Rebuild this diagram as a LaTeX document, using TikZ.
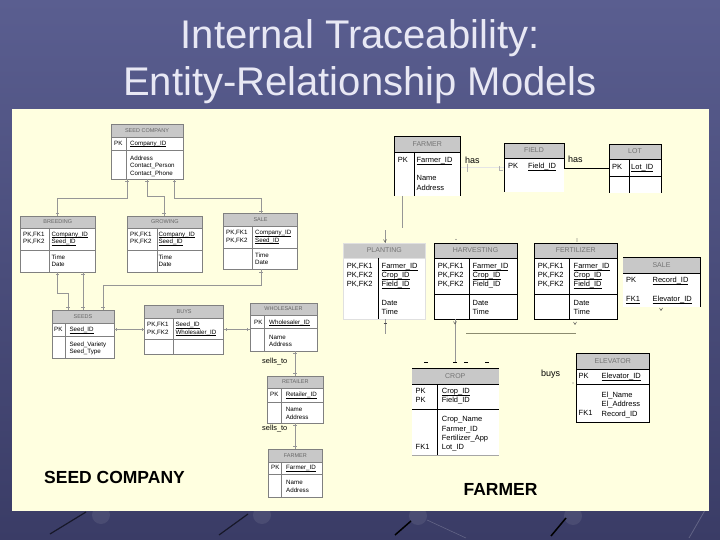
\documentclass[tikz,border=0pt]{standalone}
\usepackage{fontspec}
\setmainfont{Liberation Sans}
\usetikzlibrary{fit,decorations.markings}
\definecolor{bgtop}{RGB}{90,94,144}
\definecolor{bgbot}{RGB}{58,60,102}
\definecolor{panel}{RGB}{255,255,224}
\definecolor{hdrgray}{RGB}{200,200,200}
\definecolor{titlec}{RGB}{232,232,244}
\definecolor{connc}{RGB}{150,150,150}
\definecolor{olivec}{RGB}{140,140,112}
\newcommand{\ulx}[1]{\underline{\vphantom{A}\smash{#1}}}
\newcommand{\ent}[9]{%
  \coordinate (#1-nw) at (#3,#4);
  \coordinate (#1-se) at (#5,#6);
  \node[fit=(#1-nw)(#1-se),inner sep=0pt,outer sep=0pt,fill=white] (#1) {};
  \fill[hdrfill] (#3,#4) rectangle (#5,#7);
  \draw[entline] (#3,#7) -- (#5,#7);
  \draw[entline] (#3,#8) -- (#5,#8);
  \draw[entline] (#9,#7) -- (#9,#6);
  \draw[entborder] (#3,#4) rectangle (#5,#6);
  \node[hdrtxt] (#1-t) at ({(#3+#5)/2},{(#4+#7)/2}) {#2};
}
\begin{document}
\begin{tikzpicture}[x=1pt,y=-1pt,
  hdrfill/.style={fill=hdrgray},
  st/.style={font=\fontsize{6.2}{7.6}\selectfont,inner sep=0pt,anchor=north west,align=left},
  ft/.style={font=\fontsize{7.5}{9.3}\selectfont,inner sep=0pt,anchor=north west,align=left},
  title/.style={font=\fontsize{40}{44}\selectfont,text=titlec,anchor=base,inner sep=0pt},
  lbl/.style={font=\fontsize{7.4}{8}\selectfont,anchor=west,inner sep=0pt},
  lblb/.style={font=\fontsize{9}{10}\selectfont,anchor=west,inner sep=0pt},
  big/.style={font=\fontsize{17.5}{20}\selectfont\bfseries,inner sep=0pt},
  seedconn/.style={draw=connc,line width=0.5pt,postaction={decorate,decoration={markings,
     mark=at position 2.5pt with {\draw[connc,line width=0.4pt] (0,-1.6pt)--(0,1.6pt);},
     mark=at position -2.5pt with {\draw[connc,line width=0.4pt] (0,-1.6pt)--(0,1.6pt);}}}},
  fline/.style={draw=black,line width=0.75pt},
  mk/.style={draw=black!70,line width=0.5pt}
]
\useasboundingbox (0,0) rectangle (720,540);
% background
\shade[top color=bgtop,bottom color=bgbot] (0,0) rectangle (720,540);
\fill[white,opacity=0.08] (101,515) circle (9) (262,515) circle (9) (418,516) circle (9) (573,516) circle (9);
\draw[black!60!bgbot,line width=1.2pt] (50,534) -- (86,512);
\draw[black!60!bgbot,line width=1.2pt] (219,535) -- (248,514);
\draw[black,line width=1.5pt] (395,535) -- (411,521);
\draw[black,line width=1.5pt] (551,536) -- (566,518);
\draw[white,opacity=0.2,line width=0.6pt] (427,520) -- (466,538);
\draw[white,opacity=0.2,line width=0.8pt] (689,538) -- (708,505);
% title
\node[title] (t1) at (360,49) {Internal Traceability:};
\node[title] (t2) at (360,96) {Entity-Relationship Models};
% panel
\fill[panel] (12,109) rectangle (709,511);

% ---------------- seed company side ----------------
\begin{scope}[entline/.style={draw=black!50,line width=0.45pt},
              entborder/.style={draw=black!50,line width=0.45pt},
              hdrtxt/.style={font=\fontsize{5.5}{6}\selectfont,text=black!60,inner sep=0pt}]
\ent{sc}{SEED COMPANY}{111}{124}{183}{179}{137}{150}{126}
\ent{br}{BREEDING}{20.7}{216}{95}{272}{228}{250}{49.6}
\ent{gr}{GROWING}{127.6}{216}{202}{272}{228}{250}{157}
\ent{sa}{SALE}{223.6}{213.7}{297.5}{269.3}{226}{248}{252.5}
\ent{se}{SEEDS}{52}{310}{114}{358}{323}{336}{65.7}
\ent{bu}{BUYS}{144.6}{305}{223.6}{354}{318}{339}{173.5}
\ent{wh}{WHOLESALER}{250}{303}{317}{351}{315}{328}{264}
\ent{re}{RETAILER}{267.7}{376}{323}{423}{388}{402}{281}
\ent{fs}{FARMER}{268.6}{449}{322}{497}{462}{474}{281}
\end{scope}

\node[st] (sc-k) at (114,140.7) {PK};
\node[st] (sc-p) at (130,140.7) {\ulx{Company\_ID}};
\node[st] (sc-a) at (130,155.4) {Address\\Contact\_Person\\Contact\_Phone};
\node[st] (br-k) at (23,231.7) {PK,FK1\\PK,FK2};
\node[st] (br-p) at (51.4,231.7) {\ulx{Company\_ID}\\\ulx{Seed\_ID}};
\node[st] (br-a) at (51.4,254.4) {Time\\Date};
\node[st] (gr-k) at (130,231.7) {PK,FK1\\PK,FK2};
\node[st] (gr-p) at (158.4,231.7) {\ulx{Company\_ID}\\\ulx{Seed\_ID}};
\node[st] (gr-a) at (158.4,254.4) {Time\\Date};
\node[st] (sa-k) at (226,230) {PK,FK1\\PK,FK2};
\node[st] (sa-p) at (255,230) {\ulx{Company\_ID}\\\ulx{Seed\_ID}};
\node[st] (sa-a) at (255,252.7) {Time\\Date};
\node[st] (se-k) at (54,327) {PK};
\node[st] (se-p) at (69.3,327) {\ulx{Seed\_ID}};
\node[st] (se-a) at (69.3,341.7) {Seed\_Variety\\Seed\_Type};
\node[st] (bu-k) at (147,322) {PK,FK1\\PK,FK2};
\node[st] (bu-p) at (175.4,322) {\ulx{Seed\_ID}\\\ulx{Wholesaler\_ID}};
\node[st] (wh-k) at (254,319.7) {PK};
\node[st] (wh-p) at (269,319.7) {\ulx{Wholesaler\_ID}};
\node[st] (wh-a) at (269,334.7) {Name\\Address};
\node[st] (re-k) at (270,392.4) {PK};
\node[st] (re-p) at (285.6,392.4) {\ulx{Retailer\_ID}};
\node[st] (re-a) at (285.6,407.4) {Name\\Address};
\node[st] (fs-k) at (271,465) {PK};
\node[st] (fs-p) at (286,465) {\ulx{Farmer\_ID}};
\node[st] (fs-a) at (286,480) {Name\\Address};

% seed connectors
\draw[seedconn] ([xshift=16pt]sc.south west) -- ++(0,19) -| ([xshift=36.7pt]br.north west);
\draw[seedconn] ([xshift=36pt]sc.south west) -- ++(0,17) -| ([xshift=36.4pt]gr.north west);
\draw[seedconn] ([xshift=63.5pt]sc.south west) -- ++(0,19) -| ([xshift=37.4pt]sa.north west);
\draw[seedconn] ([xshift=36.7pt]br.south west) -- ++(0,21) -| ([xshift=16pt]se.north west);
\draw[seedconn] ([xshift=62.3pt]br.south west) -- ([xshift=31pt]se.north west);
\draw[seedconn] ([xshift=37.4pt]sa.south west) -- ++(0,16) -| ([xshift=51pt]se.north west);
\draw[seedconn] (se.east |- bu.west) -- (bu.west);
\draw[seedconn] (bu.east) -- (bu.east -| wh.west);
\draw[seedconn] ([xshift=45pt]wh.south west) -- ([xshift=27.3pt]re.north west);
\draw[seedconn] ([xshift=27.3pt]re.south west) -- ([xshift=26.4pt]fs.north west);
\node[lbl] (st1) at (262,362) {sells\_to};
\node[lbl] (st2) at (262,429) {sells\_to};

% ---------------- farmer side ----------------
\begin{scope}[entline/.style={draw=black,line width=0.75pt},
              entborder/.style={draw=black,line width=0.75pt},
              hdrtxt/.style={font=\fontsize{7}{8}\selectfont,text=black!55,inner sep=0pt}]
\begin{scope}[entborder/.style={draw=none}]
\ent{fb}{FARMER}{394}{136}{460.5}{196}{152}{152}{414}
\ent{fi}{FIELD}{504}{143}{564}{192}{158}{158}{504}
\ent{lo}{LOT}{609}{144}{661}{193}{159}{176}{629}
\ent{sf}{SALE}{623}{257}{700}{307}{273}{273}{700}
\ent{cr}{CROP}{412}{368}{498.5}{455}{384}{409}{437.5}
\end{scope}
\begin{scope}[entline/.style={draw=black!12,line width=0.6pt},entborder/.style={draw=black!12,line width=0.6pt}]
\ent{pl}{PLANTING}{343}{243}{425.6}{319}{258}{258}{378}
\end{scope}
\ent{hv}{HARVESTING}{434}{243}{517}{319}{258}{294}{469}
\ent{fe}{FERTILIZER}{534}{243}{617.5}{319}{258}{294}{569}
\ent{el}{ELEVATOR}{576}{353}{649.5}{422}{369}{384}{576}
\end{scope}
\draw[fline] (378,258) -- (378,319);
\draw[fline] (394,196) -- (394,136) -- (460.5,136) -- (460.5,196);
\draw[fline] (504,192) -- (504,143) -- (564,143) -- (564,169);
\draw[fline] (609,193) -- (609,144) -- (661,144) -- (661,193);
\draw[fline] (623,257) -- (700,257) -- (700,307);
\draw[fline] (412,368) -- (498.5,368);
\draw[draw=black!35,line width=0.6pt] (412,455) -- (498.5,455);

\node[ft] (fb-k) at (397.6,157.3) {PK};
\node[ft] (fb-p) at (416.4,157.3) {\ulx{Farmer\_ID}};
\node[ft] (fb-a) at (416.4,175.6) {Name\\Address};
\node[ft] (fi-k) at (508,163.3) {PK};
\node[ft] (fi-p) at (528,163.3) {\ulx{Field\_ID}};
\node[ft] (lo-k) at (612,164) {PK};
\node[ft] (lo-p) at (631,164) {\ulx{Lot\_ID}};
\node[ft] (pl-k) at (346.6,263) {PK,FK1\\PK,FK2\\PK,FK2};
\node[ft] (pl-p) at (381.5,263) {\ulx{Farmer\_ID}\\\ulx{Crop\_ID}\\\ulx{Field\_ID}};
\node[ft] (pl-a) at (381.5,300.3) {Date\\Time};
\node[ft] (hv-k) at (437.6,263) {PK,FK1\\PK,FK2\\PK,FK2};
\node[ft] (hv-p) at (472.4,263) {\ulx{Farmer\_ID}\\\ulx{Crop\_ID}\\Field\_ID};
\node[ft] (hv-a) at (472.4,300.3) {Date\\Time};
\node[ft] (fe-k) at (537.6,263) {PK,FK1\\PK,FK2\\PK,FK2};
\node[ft] (fe-p) at (573.5,263) {\ulx{Farmer\_ID}\\\ulx{Crop\_ID}\\\ulx{Field\_ID}};
\node[ft] (fe-a) at (573.5,300.3) {Date\\Time};
\node[ft] (sf-k) at (626,277.3) {PK};
\node[ft] (sf-p) at (652.4,277.3) {\ulx{Record\_ID}};
\node[ft] (sf-fk) at (626,296) {\ulx{FK1}};
\node[ft] (sf-f) at (652.4,296) {\ulx{Elevator\_ID}};
\node[ft] (cr-k) at (415.5,388.3) {PK\\PK};
\node[ft] (cr-p) at (441.7,388.3) {\ulx{Crop\_ID}\\Field\_ID};
\node[ft] (cr-a) at (441.7,416.3) {Crop\_Name\\Farmer\_ID\\Fertilizer\_App\\Lot\_ID};
\node[ft] (cr-fk) at (415.5,444.3) {FK1};
\node[ft] (el-k) at (578.5,373.3) {PK};
\node[ft] (el-p) at (601.5,373.3) {\ulx{Elevator\_ID}};
\node[ft] (el-a) at (601.5,392) {El\_Name\\El\_Address\\Record\_ID};
\node[ft] (el-fk) at (578.5,410.6) {FK1};

% farmer connectors
\draw[draw=black!10,line width=0.5pt] (fb.east |- fi.west) -- (fi.west);
\draw[mk,black!30] (467,164) -- (467,172);
\draw[mk,black!30] (499,166) -- (499,170) -- (503,170);
\draw[fline] (fi.east |- lo.west) -- (lo.west);
\draw[draw=connc,line width=0.8pt] ([xshift=8pt]fb.south west) -- ++(0,32);
\draw[draw=connc,line width=0.6pt] ([xshift=42pt]pl.north west) -- ++(0,-13);
\draw[mk] (383.5,239.5) -- (385,242) -- (386.5,239.5);
\draw[draw=connc,line width=0.6pt] ([xshift=42pt]pl.south west) -- ++(0,15);
\draw[mk] (383.5,323) -- (386.5,323);
\draw[draw=connc,line width=0.8pt] ([xshift=21pt]hv.south west) -- ([xshift=43pt,yshift=5pt]cr.north west);
\draw[mk] (453.5,321.5) -- (455,324) -- (456.5,321.5);
\draw[draw=olivec,line width=0.8pt] ([shift={(32pt,-14pt)}]hv.south west) -- ([shift={(42pt,-14pt)}]fe.south west);
\draw[mk] (573.5,322) -- (575,324.5) -- (576.5,322);
\draw[mk] (659.5,308) -- (661,310.5) -- (662.5,308);
\fill[black!60] (456,239.5) circle (0.6) (577,239) circle (0.6) (577,241) circle (0.6) (573,383) circle (0.6);
\draw[fline] (424,362) -- (428,362) (453,362) -- (457,362) (464,362) -- (468,362) (485,362) -- (489,362);
\node[lblb] (has1) at (465,160) {has};
\node[lblb] (has2) at (568,159) {has};
\node[lblb] (buys) at (541,374) {buys};

\node[big] (lsc) at (114.5,477) {SEED COMPANY};
\node[big] (lfa) at (500.5,489) {FARMER};
\end{tikzpicture}
\end{document}
